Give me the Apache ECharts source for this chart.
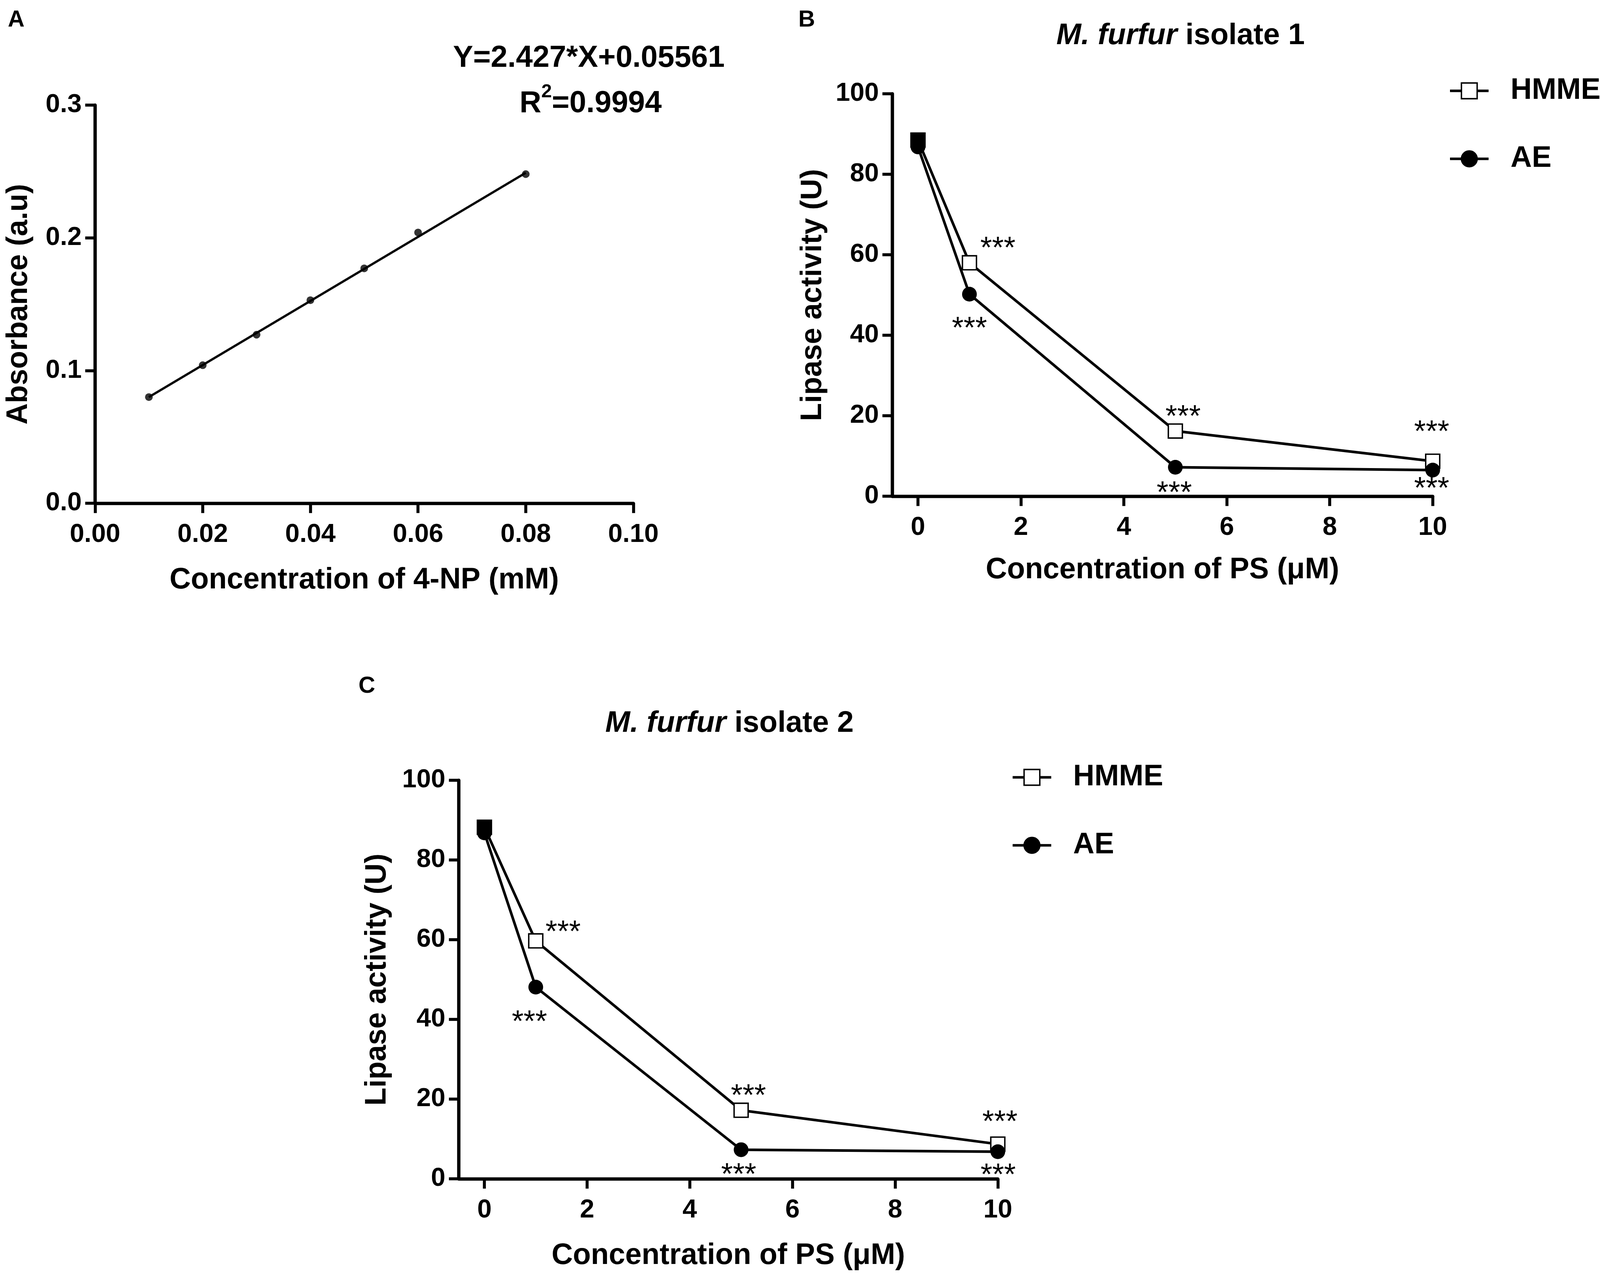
<!DOCTYPE html>
<html>
<head>
<meta charset="utf-8">
<title>Lipase activity</title>
<script src="https://cdn.jsdelivr.net/npm/echarts@6/dist/echarts.min.js"></script>
<style>
  html, body { margin: 0; padding: 0; background: #fff; overflow: hidden; }
  #main { width: 100vw; height: 100vh; }
</style>
</head>
<body>
<div id="main"></div>
<script>
// ---- data ----
// A: 4-NP standard curve
var stdConc = [0.01, 0.02, 0.03, 0.04, 0.05, 0.06, 0.08];
var stdAbs = [0.080, 0.104, 0.127, 0.153, 0.177, 0.204, 0.248];
// ends of the drawn fit line
var fitConc = [0.01, 0.08];
var fitAbs = [0.080, 0.249];
var fitEquation = 'Y=2.427*X+0.05561';
var fitR2 = '0.9994';

// B / C: lipase activity vs PS concentration
var psConc = [0, 1, 5, 10];
var psTicks = [0, 2, 4, 6, 8, 10];
var iso1Hmme = [88.5, 58.0, 16.2, 8.7];
var iso1Ae = [86.8, 50.2, 7.2, 6.5];
var iso2Hmme = [88.2, 59.7, 17.2, 8.7];
var iso2Ae = [86.8, 48.1, 7.3, 6.8];
var sigMark = '***';

// where the *** sits relative to each point (null = no mark), in layout px
var starOff1Hmme = [null, [81, -34], [22, -33], [-3, -72]];
var starOff1Ae = [null, [0, 91], [-3, 69], [-3, 51]];
var starOff2Hmme = [null, [78, -19], [21, -34], [6, -54]];
var starOff2Ae = [null, [-18, 92], [-7, 67], [1, 63]];

var FONT = '"Liberation Sans", Arial, Helvetica, sans-serif';

// layout is worked out on a 4562 x 3276 page, scaled to whatever we get
var dom = document.getElementById('main');
var sx = dom.clientWidth / 4562;
var sy = dom.clientHeight / 3276;
var sf = Math.min(sx, sy);
function X(v) { return v * sx; }
function Y(v) { return v * sy; }
function S(v) { return v * sf; }

function pts(xs, ys, offs, firstFill) {
  var out = [];
  for (var i = 0; i < xs.length; i++) {
    var item = { value: [xs[i], ys[i]] };
    if (offs && offs[i]) {
      item.label = { show: true, offset: [X(offs[i][0]), Y(offs[i][1])] };
    }
    // the 0 uM point is hidden under its error bar in the figure -> solid
    if (firstFill && i == 0) {
      item.itemStyle = { color: '#000' };
    }
    out.push(item);
  }
  return out;
}
function pairs(xs, ys) {
  var out = [];
  for (var i = 0; i < xs.length; i++) out.push([xs[i], ys[i]]);
  return out;
}

function axisBase(gridIndex) {
  return {
    gridIndex: gridIndex,
    type: 'value',
    axisLine: { show: true, onZero: false, lineStyle: { color: '#000', width: S(9.5) } },
    axisTick: { show: true, length: S(28), lineStyle: { color: '#000', width: S(8.5) } },
    splitLine: { show: false },
    axisLabel: { color: '#000', fontSize: S(74), fontWeight: 'bold', fontFamily: FONT },
    nameLocation: 'middle',
    nameTextStyle: { color: '#000', fontSize: S(84), fontWeight: 'bold', fontFamily: FONT }
  };
}
function xAx(gridIndex, extra) {
  var a = axisBase(gridIndex);
  a.axisLabel.margin = Y(48);
  for (var k in extra) a[k] = extra[k];
  return a;
}
function yAx(gridIndex, extra) {
  var a = axisBase(gridIndex);
  a.axisLabel.margin = X(38);
  for (var k in extra) a[k] = extra[k];
  return a;
}

var starLabel = {
  show: false,
  position: 'inside',
  formatter: sigMark,
  color: '#000',
  fontSize: S(86),
  fontFamily: FONT
};

function psSeries(name, idx, ys, offs, isOpen) {
  return {
    name: name,
    type: 'line',
    xAxisIndex: idx,
    yAxisIndex: idx,
    data: pts(psConc, ys, offs, isOpen),
    symbol: isOpen ? 'rect' : 'circle',
    symbolSize: isOpen ? S(40) : S(42),
    lineStyle: { color: '#000', width: S(7.5) },
    itemStyle: isOpen
      ? { color: '#fff', borderColor: '#000', borderWidth: S(4) }
      : { color: '#000', borderColor: '#000', borderWidth: 0 },
    label: starLabel,
    emphasis: { disabled: true },
    animation: false,
    z: isOpen ? 2 : 3
  };
}

function legendAt(left, top) {
  return {
    left: X(left),
    top: Y(top),
    orient: 'vertical',
    data: ['HMME', 'AE'],
    itemWidth: S(110),
    itemHeight: S(56),
    itemGap: Y(99),
    selectedMode: false,
    lineStyle: { width: S(7.5) },
    itemStyle: { borderWidth: S(4) },
    textStyle: { color: '#000', fontSize: S(84), fontWeight: 'bold', fontFamily: FONT, padding: [0, 0, 0, X(57)] }
  };
}

function txt(x, y, text, size, extra) {
  var st = {
    text: text,
    fill: '#000',
    fontSize: S(size),
    fontWeight: 'bold',
    fontFamily: FONT,
    align: 'center',
    verticalAlign: 'middle'
  };
  for (var k in extra) st[k] = extra[k];
  return { type: 'text', x: X(x), y: Y(y), style: st, silent: true };
}

var titleRich = {
  i: { fontSize: S(85), fontWeight: 'bold', fontStyle: 'italic', fontFamily: FONT, fill: '#000' },
  n: { fontSize: S(85), fontWeight: 'bold', fontFamily: FONT, fill: '#000' }
};
var r2Rich = {
  b: { fontSize: S(86), fontWeight: 'bold', fontFamily: FONT, fill: '#000', lineHeight: S(86), verticalAlign: 'bottom' },
  s: { fontSize: S(54), fontWeight: 'bold', fontFamily: FONT, fill: '#000', lineHeight: S(54), padding: [0, 0, S(50), 0], verticalAlign: 'bottom' }
};

var myChart = echarts.init(dom, null, { renderer: 'canvas' });

var option = {
  backgroundColor: '#fff',
  animation: false,
  grid: [
    { left: X(271), top: Y(269), width: X(1535), height: Y(1019) },
    { left: X(2544), top: Y(240), width: X(1541), height: Y(1030) },
    { left: X(1308), top: Y(1997), width: X(1537), height: Y(1020) }
  ],
  xAxis: [
    xAx(0, {
      min: 0, max: 0.1, interval: 0.02,
      name: 'Concentration of 4-NP (mM)', nameGap: Y(160)
    }),
    xAx(1, {
      min: -0.5, max: 10,
      name: 'Concentration of PS (\u03bcM)', nameGap: Y(152)
    }),
    xAx(2, {
      min: -0.5, max: 10,
      name: 'Concentration of PS (\u03bcM)', nameGap: Y(160)
    })
  ],
  yAxis: [
    yAx(0, {
      min: 0, max: 0.3, interval: 0.1,
      name: 'Absorbance (a.u)', nameGap: X(175)
    }),
    yAx(1, {
      min: 0, max: 100, interval: 20,
      name: 'Lipase activity (U)', nameGap: X(184)
    }),
    yAx(2, {
      min: 0, max: 100, interval: 20,
      name: 'Lipase activity (U)', nameGap: X(190)
    })
  ],
  legend: [legendAt(4125, 190), legendAt(2878, 1947)],
  graphic: [
    txt(46, 52, 'A', 66),
    txt(2300, 52, 'B', 66),
    txt(1046, 1757, 'C', 66),
    txt(1679, 150, fitEquation, 86),
    txt(1684, 266, '{b|R}{s|2}{b|=' + fitR2 + '}', 86, { rich: r2Rich }),
    txt(3366, 92, '{i|M. furfur} {n|isolate 1}', 85, { rich: titleRich }),
    txt(2080, 1852, '{i|M. furfur} {n|isolate 2}', 85, { rich: titleRich })
  ],
  series: [
    {
      type: 'line',
      xAxisIndex: 0, yAxisIndex: 0,
      data: pairs(fitConc, fitAbs),
      symbol: 'none',
      lineStyle: { color: '#000', width: S(6.5) },
      emphasis: { disabled: true },
      animation: false
    },
    {
      type: 'scatter',
      xAxisIndex: 0, yAxisIndex: 0,
      data: pairs(stdConc, stdAbs),
      symbol: 'circle',
      symbolSize: S(22),
      itemStyle: { color: '#000' },
      emphasis: { disabled: true },
      animation: false
    },
    psSeries('HMME', 1, iso1Hmme, starOff1Hmme, true),
    psSeries('AE', 1, iso1Ae, starOff1Ae, false),
    psSeries('HMME', 2, iso2Hmme, starOff2Hmme, true),
    psSeries('AE', 2, iso2Ae, starOff2Ae, false)
  ]
};

// custom tick positions for the PS axes (axis starts a bit left of 0)
option.xAxis[1].axisTick.customValues = psTicks;
option.xAxis[1].axisLabel.customValues = psTicks;
option.xAxis[2].axisTick.customValues = psTicks;
option.xAxis[2].axisLabel.customValues = psTicks;
option.xAxis[0].axisLabel.formatter = function (v) { return v.toFixed(2); };
option.yAxis[0].axisLabel.formatter = function (v) { return v.toFixed(1); };

myChart.setOption(option);
</script>
</body>
</html>
